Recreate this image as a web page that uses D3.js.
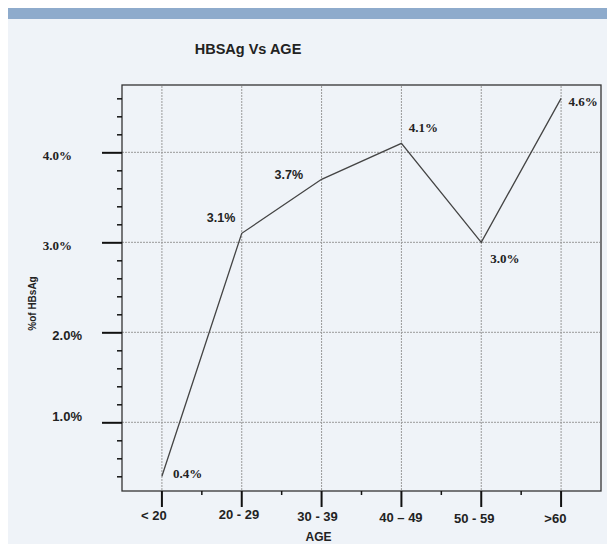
<!DOCTYPE html>
<html>
<head>
<meta charset="utf-8">
<script src="https://cdn.jsdelivr.net/npm/d3@7"></script>
<style>
  html, body { margin: 0; padding: 0; background: #ffffff; }
  svg { display: block; }
</style>
</head>
<body>
<svg id="chart" width="609" height="544"></svg>
<script>
// ---- data ----
const categories = ["< 20", "20 - 29", "30 - 39", "40 \u2013 49", "50 - 59", ">60"];
const values = [0.4, 3.1, 3.7, 4.1, 3.0, 4.6];
const valueLabels = ["0.4%", "3.1%", "3.7%", "4.1%", "3.0%", "4.6%"];
const yTicks = [1, 2, 3, 4];
const yTickLabels = ["1.0%", "2.0%", "3.0%", "4.0%"];
const title = "HBSAg Vs AGE";
const xTitle = "AGE";
const yTitle = "%of HBsAg";

// ---- layout (separate from data) ----
const SERIF = "'Liberation Serif','Times New Roman',serif";
const SANS = "'Liberation Sans',Arial,sans-serif";
const plot = { left: 122, right: 601, top: 85, bottom: 491 };
// per value label: [dx, dy, anchor, font]
const valueLabelLayout = [
  [11, 1.5, "start", SERIF],
  [-6.5, -11, "end", SANS],
  [-18.5, 0, "end", SANS],
  [7.3, -11, "start", SERIF],
  [9, 20.5, "start", SERIF],
  [7.3, 7.7, "start", SERIF]
];
// per y tick label (order of yTicks): [rightX, dy, font]
const yLabelLayout = [
  [82, -1.6, SANS],
  [82, 7.7, SANS],
  [72, 7.3, SERIF],
  [72, 7.6, SERIF]
];
// per x label: [dx, baseline]
const xLabelLayout = [
  [-8, 519.5], [-2.7, 518.5], [-4, 521], [-0.5, 521.5], [-7, 523], [-5.7, 523]
];

const svg = d3.select("#chart");

// background panel
svg.append("rect").attr("x", 8).attr("y", 8).attr("width", 599).attr("height", 536).attr("fill", "#eff3f8");
svg.append("rect").attr("x", 8).attr("y", 8).attr("width", 599).attr("height", 11).attr("fill", "#8eabcc");

const x = d3.scaleBand().domain(categories).range([plot.left, plot.right]).padding(0);
const y = d3.scaleLinear().domain([0.2367, 4.748]).range([plot.bottom, plot.top]);
const cx = d => x(d) + x.bandwidth() / 2;

// grid
const grid = svg.append("g").attr("stroke", "#9a9a9a").attr("stroke-width", 1).attr("stroke-dasharray", "2,1").attr("fill", "none");
grid.selectAll("line.v").data(categories).join("line")
  .attr("x1", d => cx(d)).attr("x2", d => cx(d))
  .attr("y1", plot.top + 1).attr("y2", plot.bottom);
grid.selectAll("line.h").data(yTicks).join("line")
  .attr("x1", plot.left).attr("x2", plot.right - 1)
  .attr("y1", d => y(d)).attr("y2", d => y(d));

// frame
svg.append("rect").attr("x", plot.left).attr("y", plot.top)
  .attr("width", plot.right - plot.left).attr("height", plot.bottom - plot.top)
  .attr("fill", "none").attr("stroke", "#333").attr("stroke-width", 1.3);

// y axis: major ticks
const yAxisMajor = d3.axisLeft(y).tickValues(yTicks).tickSize(20).tickFormat("");
const gyM = svg.append("g").attr("transform", `translate(${plot.left},0)`).call(yAxisMajor);
gyM.select(".domain").remove();
gyM.selectAll(".tick line").attr("stroke", "#111").attr("stroke-width", 2);

// y minor ticks
const minor = d3.range(4, 47, 2).map(v => v / 10).filter(v => !yTicks.includes(v));
const yAxisMinor = d3.axisLeft(y).tickValues(minor).tickSize(5).tickFormat("");
const gym = svg.append("g").attr("transform", `translate(${plot.left},0)`).call(yAxisMinor);
gym.select(".domain").remove();
gym.selectAll(".tick line").attr("stroke", "#111").attr("stroke-width", 1.5);

// y labels
svg.append("g").selectAll("text").data(yTicks).join("text")
  .attr("x", (d, i) => yLabelLayout[i][0])
  .attr("y", (d, i) => y(d) + yLabelLayout[i][1])
  .attr("text-anchor", "end")
  .attr("font-family", (d, i) => yLabelLayout[i][2])
  .attr("font-weight", "bold")
  .attr("font-size", 13)
  .attr("fill", "#222")
  .text((d, i) => yTickLabels[i]);

// x axis major ticks
const xAxis = d3.axisBottom(x).tickSize(16).tickFormat("");
const gx = svg.append("g").attr("transform", `translate(0,${plot.bottom})`).call(xAxis);
gx.select(".domain").remove();
gx.selectAll(".tick line").attr("stroke", "#111").attr("stroke-width", 2);

// x minor ticks at band boundaries
const bounds = categories.slice(1).map(c => x(c));
svg.append("g").selectAll("line").data(bounds).join("line")
  .attr("x1", d => d).attr("x2", d => d)
  .attr("y1", plot.bottom).attr("y2", plot.bottom + 4)
  .attr("stroke", "#111").attr("stroke-width", 1.5);

// x labels
svg.append("g").selectAll("text").data(categories).join("text")
  .attr("x", (d, i) => cx(d) + xLabelLayout[i][0])
  .attr("y", (d, i) => xLabelLayout[i][1])
  .attr("text-anchor", "middle")
  .attr("font-family", SANS).attr("font-weight", "bold").attr("font-size", 13)
  .attr("fill", "#222")
  .text(d => d);

// line
const line = d3.line().x((d, i) => cx(categories[i])).y(d => y(d));
svg.append("path").datum(values).attr("d", line)
  .attr("fill", "none").attr("stroke", "#444").attr("stroke-width", 1.3);

// value labels
svg.append("g").selectAll("text").data(values).join("text")
  .attr("x", (d, i) => cx(categories[i]) + valueLabelLayout[i][0])
  .attr("y", (d, i) => y(d) + valueLabelLayout[i][1])
  .attr("text-anchor", (d, i) => valueLabelLayout[i][2])
  .attr("font-family", (d, i) => valueLabelLayout[i][3])
  .attr("font-weight", "bold")
  .attr("font-size", (d, i) => valueLabelLayout[i][3] === SERIF ? 13 : 12.5)
  .attr("fill", "#222")
  .text((d, i) => valueLabels[i]);

// titles
svg.append("text").attr("x", 248).attr("y", 54.3).attr("text-anchor", "middle")
  .attr("font-family", SANS).attr("font-weight", "bold").attr("font-size", 14.5).attr("fill", "#222")
  .text(title);
svg.append("text").attr("x", 318.5).attr("y", 541).attr("text-anchor", "middle")
  .attr("font-family", SANS).attr("font-weight", "bold").attr("font-size", 12).attr("fill", "#222")
  .text(xTitle);
svg.append("text").attr("transform", "translate(35.5,303.5) rotate(-90)").attr("text-anchor", "middle")
  .attr("font-family", SANS).attr("font-weight", "bold").attr("font-size", 10).attr("fill", "#222")
  .text(yTitle);
</script>
</body>
</html>
